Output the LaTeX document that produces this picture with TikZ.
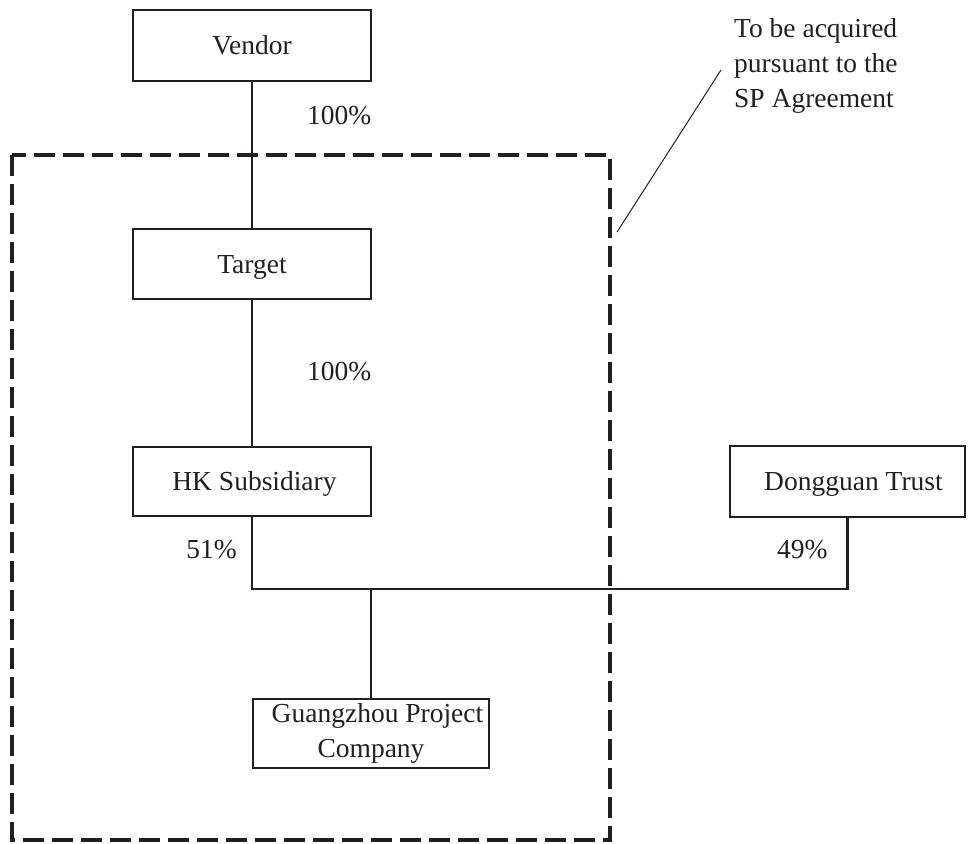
\documentclass[tikz,border=0pt]{standalone}
\usepackage{fontspec}
\setmainfont{Liberation Serif}
\begin{document}
\begin{tikzpicture}[x=1pt, y=-1pt,
  ink/.style={color=inkc},
  entity/.style={draw=inkc, text=inkc, line width=2.6pt, inner sep=0pt,
    text height=18.5pt, text depth=0pt,
    font=\fontsize{27.5}{35}\selectfont},
  label/.style={text=inkc, inner sep=0pt, font=\fontsize{27.5}{35}\selectfont},
  link/.style={draw=inkc, line width=2.5pt},
  scopebox/.style={draw=inkc, line width=4pt, dash pattern=on 21pt off 8pt},
  leader/.style={draw=inkc, line width=1pt}]
\definecolor{inkc}{HTML}{231F20}
\useasboundingbox (0,0) rectangle (974,843);

% boundary of the interests being acquired
\draw[scopebox] (12,155) rectangle (610,840);

% entities
\node[entity, minimum width=238pt, minimum height=71pt] (vendor) at (252,45.5) {Vendor};
\node[entity, minimum width=238pt, minimum height=70pt] (target) at (252,264) {Target};
\node[entity, minimum width=238pt, minimum height=69pt] (hk) at (252,481.5) {\hspace*{5pt}HK Subsidiary};
\node[entity, minimum width=235pt, minimum height=71pt] (dg) at (847.5,481.5) {\hspace*{12pt}Dongguan Trust};
\node[draw=inkc, text=inkc, line width=2.6pt, inner sep=0pt, align=center,
  minimum width=236pt, minimum height=69pt,
  font=\fontsize{27.5}{35}\selectfont] (gz) at (371,733.5)
  {\hspace*{13pt}Guangzhou Project\\Company};

% shareholding links
\draw[link] (vendor.south) -- (target.north);
\draw[link] (target.south) -- (hk.north);
\coordinate (join) at (371,589);
\draw[link] (hk.south) |- (join) -| (dg.south);
\draw[link] (join) -- (gz.north);

% percentages
\node[label, anchor=base west] (p1) at (307,124) {100\%};
\node[label, anchor=base west] (p2) at (307,380) {100\%};
\node[label, anchor=base east] (p3) at (237,558) {51\%};
\node[label, anchor=base west] (p4) at (777,558) {49\%};

% note with leader line
\node[label, anchor=north west, align=left] (note) at (734,18)
  {To be acquired\\pursuant to the\\SP Agreement};
\coordinate (leadlow) at (617,232);
\coordinate (leadhigh) at (721,70);
\draw[leader] (leadlow) -- (leadhigh);
\end{tikzpicture}
\end{document}
